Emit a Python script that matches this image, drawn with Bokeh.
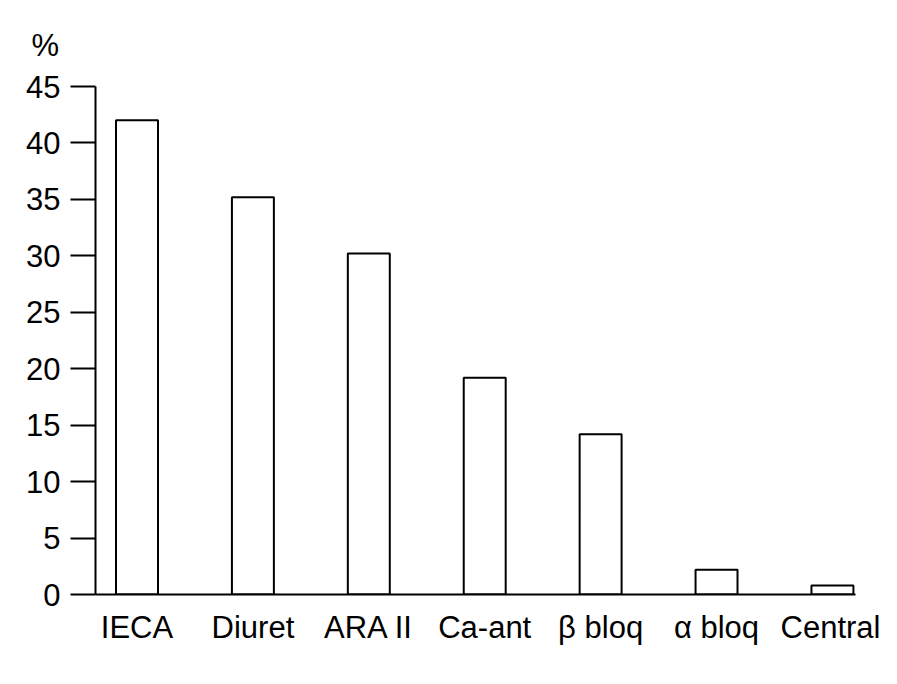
from bokeh.plotting import figure
from bokeh.models import Range1d, FixedTicker, ColumnDataSource
from bokeh.embed import file_html
from bokeh.resources import INLINE

categories = ["IECA", "Diuret", "ARA II", "Ca-ant", "\u03b2 bloq", "\u03b1 bloq", "Central"]
values = [42.0, 35.2, 30.2, 19.2, 14.2, 2.2, 0.8]
y_ticks = [0, 5, 10, 15, 20, 25, 30, 35, 40, 45]
y_unit = "%"

FONT = "Liberation Sans"
FS = "31px"

xs = list(range(len(categories)))
src = ColumnDataSource(dict(x=xs, top=values, name=categories))

p = figure(width=880, height=664, output_backend="svg", toolbar_location=None,
           x_range=Range1d(-0.358, len(categories) - 1 + 0.199),
           y_range=Range1d(0, 45),
           min_border_left=95, min_border_right=25, min_border_top=86, min_border_bottom=70)

p.vbar(x="x", top="top", bottom=0, width=0.362, source=src,
       fill_color="white", line_color="black", line_width=2)

p.xgrid.visible = False
p.ygrid.visible = False
p.outline_line_color = None
p.background_fill_color = "white"
p.border_fill_color = "white"

p.title.text = y_unit
p.title.align = "left"
p.title.offset = -64
p.title.standoff = 48
p.title.text_font = FONT
p.title.text_font_size = "31px"
p.title.text_font_style = "normal"
p.title.text_color = "black"

xa = p.xaxis[0]
xa.ticker = FixedTicker(ticks=xs)
xa.major_label_overrides = {i: c for i, c in enumerate(categories)}
xa.major_tick_out = 0
xa.major_tick_in = 0
xa.minor_tick_out = 0
xa.minor_tick_in = 0
xa.axis_line_width = 2
xa.major_label_text_font = FONT
xa.major_label_text_font_size = FS
xa.major_label_text_color = "black"
xa.major_label_standoff = 15

ya = p.yaxis[0]
ya.ticker = FixedTicker(ticks=y_ticks)
ya.major_tick_out = 25
ya.major_tick_in = 0
ya.major_tick_line_width = 2
ya.minor_tick_out = 0
ya.minor_tick_in = 0
ya.axis_line_width = 2
ya.major_label_text_font = FONT
ya.major_label_text_font_size = FS
ya.major_label_text_color = "black"
ya.major_label_standoff = 10

open("out.html", "w").write(file_html(p, INLINE))
